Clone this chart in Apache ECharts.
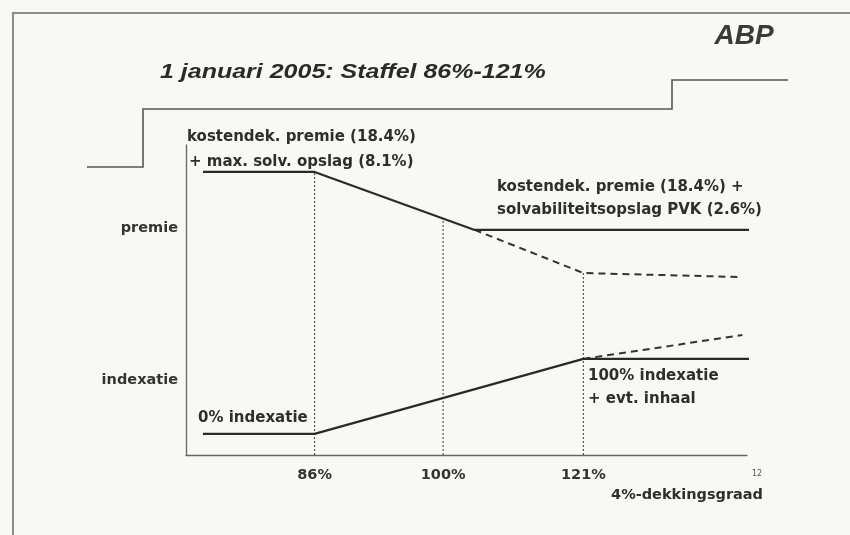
<!DOCTYPE html>
<html>
<head>
<meta charset="utf-8">
<script src="https://cdn.jsdelivr.net/npm/echarts@6/dist/echarts.min.js"></script>
<style>
html,body{margin:0;padding:0;background:#f8f8f7;}
#chart{width:850px;height:535px;}
</style>
</head>
<body>
<div id="chart"></div>
<script>
// Schematic x scale (positions along the dekkingsgraad axis) and y scale (0-100 levels)
const xTickPos = [11, 22, 34];
const xTickLabels = ['86%', '100%', '121%'];
const yBandPos = [73.2, 24.2];
const yBandLabels = ['premie', 'indexatie'];

const premieSolidX = [1.45, 11, 24.7, 48.6];
const premieSolidY = [91.3, 91.3, 72.6, 72.6];
const premieDashX = [24.7, 34, 47.6];
const premieDashY = [72.6, 58.7, 57.4];

const indexSolidX = [1.45, 11, 34, 48.4];
const indexSolidY = [6.8, 6.8, 31.0, 31.0];
const indexDashX = [34, 47.6];
const indexDashY = [31.0, 38.7];

const guideX = [11, 22, 34];
const guideTop = [91.3, 76.3, 58.7];

const titleText = '1 januari 2005: Staffel 86%-121%';
const axisName = '4%-dekkingsgraad';
const notes = [
  'kostendek. premie (18.4%)',
  '+ max. solv. opslag (8.1%)',
  'kostendek. premie (18.4%) +',
  'solvabiliteitsopslag PVK (2.6%)',
  '0% indexatie',
  '100% indexatie',
  '+ evt. inhaal'
];

function pairs(xs, ys){ return xs.map((x,i)=>[x, ys[i]]); }

const ink = '#2a2a2a';
const solidStyle = {color: ink, width: 2.2};
const dashStyle = {color: '#333', width: 2, type: [7,5]};
const noteFont = 'bold 15px "DejaVu Sans"';

const series = [];
guideX.forEach((x,i)=>{
  series.push({type:'line', data:[[x,0],[x,guideTop[i]]], symbol:'none', silent:true,
    lineStyle:{color:'#555', width:1.2, type:[2,2]}, z:1});
});
series.push({type:'line', data:pairs(premieSolidX, premieSolidY), symbol:'none', clip:false, lineStyle:solidStyle, z:3});
series.push({type:'line', data:pairs(premieDashX, premieDashY), symbol:'none', clip:false, lineStyle:dashStyle, z:2});
series.push({type:'line', data:pairs(indexSolidX, indexSolidY), symbol:'none', clip:false, lineStyle:solidStyle, z:3});
series.push({type:'line', data:pairs(indexDashX, indexDashY), symbol:'none', clip:false, lineStyle:dashStyle, z:2});

function txt(text, x, y, font, opts){
  return {type:'text', x:x, y:y, style:Object.assign({text:text, font:font, fill:'#2e2e2e', textAlign:'left', textVerticalAlign:'middle'}, opts||{})};
}

const chart = echarts.init(document.getElementById('chart'), null, {renderer:'canvas'});
const titleEl = txt(titleText, 160, 72, 'italic bold 21px "Liberation Sans"', {fill:'#2a2a2a'});
titleEl.scaleX = 1.19;
chart.setOption({
  animation:false,
  backgroundColor:'#f8f8f7',
  grid:{left:186, top:145, width:561, height:310, containLabel:false},
  xAxis:{type:'value', min:0, max:48,
    axisLine:{show:true, lineStyle:{color:'#666', width:1.3}},
    axisTick:{show:false}, splitLine:{show:false},
    axisLabel:{customValues:xTickPos, margin:13, color:'#333', fontFamily:'DejaVu Sans', fontWeight:'bold', fontSize:14.5,
      formatter:function(v){ const i = xTickPos.indexOf(v); return i>=0 ? xTickLabels[i] : ''; }}},
  yAxis:{type:'value', min:0, max:100,
    axisLine:{show:true, lineStyle:{color:'#666', width:1.3}},
    axisTick:{show:false}, splitLine:{show:false},
    axisLabel:{customValues:yBandPos, margin:8, color:'#333', fontFamily:'DejaVu Sans', fontWeight:'bold', fontSize:14.5,
      formatter:function(v){ const i = yBandPos.indexOf(v); return i>=0 ? yBandLabels[i] : ''; }}},
  series:series,
  graphic:[
    {type:'polyline', shape:{points:[[13,535],[13,13],[850,13]]}, style:{stroke:'#8a8a8a', lineWidth:2, fill:null}, silent:true},
    {type:'polyline', shape:{points:[[87,167],[143,167],[143,109],[672,109],[672,80],[788,80]]}, style:{stroke:'#555', lineWidth:1.6, fill:null}, silent:true},
    txt('ABP', 744, 36, 'italic bold 28px "Liberation Sans"', {textAlign:'center', fill:'#3a3a3a'}),
    titleEl,
    txt(notes[0], 187, 137, noteFont),
    txt(notes[1], 189, 162, noteFont),
    txt(notes[2], 497, 187, noteFont),
    txt(notes[3], 497, 210, noteFont),
    txt(notes[4], 198, 418, noteFont),
    txt(notes[5], 588, 376, noteFont),
    txt(notes[6], 588, 399, noteFont),
    txt(axisName, 763, 495, 'bold 14.5px "DejaVu Sans"', {textAlign:'right'}),
    txt('12', 757, 474, '8px "DejaVu Sans"', {textAlign:'center', fill:'#555'})
  ]
});
</script>
</body>
</html>
